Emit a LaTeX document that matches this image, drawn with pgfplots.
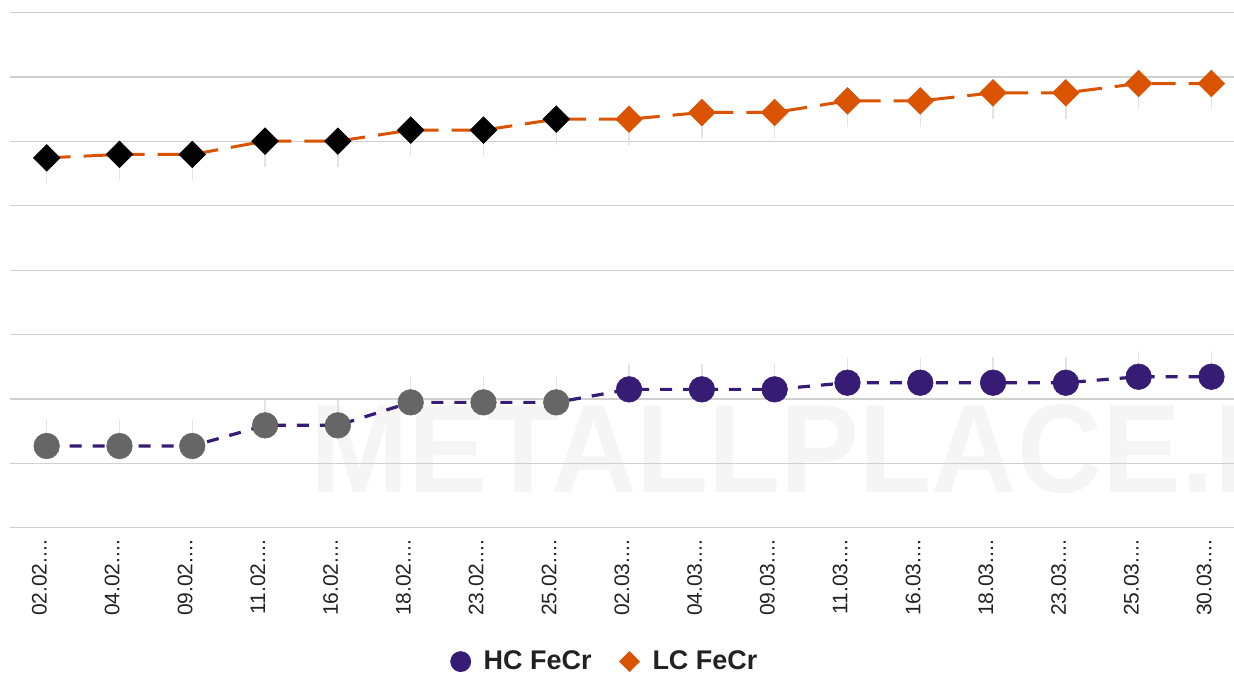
\documentclass[border=0pt]{standalone}
\usepackage{fontspec}
\setmainfont{Liberation Sans}
\usepackage{pgfplots}
\pgfplotsset{compat=1.18}
\definecolor{hc}{HTML}{361C74}
\definecolor{lc}{HTML}{D95300}
\definecolor{gridc}{HTML}{D0D0D0}
\definecolor{errc}{HTML}{E4E4E4}
\definecolor{hcold}{HTML}{666666}
\definecolor{wm}{HTML}{F5F5F5}
\definecolor{txt}{HTML}{222222}
\newcommand{\dd}{.{}.{}.{}.}
\begin{document}
\begin{tikzpicture}
% faint watermark
\node[text=wm, font=\bfseries\fontsize{62.85pt}{62.85pt}\selectfont, anchor=base west, inner sep=0pt, xscale=0.94] at (155pt,90pt) {METALLPLACE.RU};
\begin{axis}[
  at={(5pt,72.65pt)}, anchor=south west,
  scale only axis, width=612pt, height=257.5pt,
  xmin=-0.504, xmax=16.31, ymin=0, ymax=8,
  axis line style={draw=none},
  tick style={draw=none},
  ytick={0,1,2,3,4,5,6,7,8}, yticklabels={},
  ymajorgrids, grid style={gridc, line width=0.65pt},
  xtick={0,1,2,3,4,5,6,7,8,9,10,11,12,13,14,15,16},
  xticklabels={{02.02\dd},{04.02\dd},{09.02\dd},{11.02\dd},{16.02\dd},{18.02\dd},{23.02\dd},{25.02\dd},{02.03\dd},{04.03\dd},{09.03\dd},{11.03\dd},{16.03\dd},{18.03\dd},{23.03\dd},{25.03\dd},{30.03\dd}},
  xticklabel style={rotate=90, anchor=base east, inner sep=0pt, font=\fontsize{10.5pt}{12pt}\selectfont, text=txt},
  xticklabel shift=6pt,
  clip=false,
  legend columns=2,
  legend cell align=left,
  legend style={at={(axis description cs:0.487,-0.26)}, anchor=center, draw=none, fill=none, inner sep=0pt,
    font=\bfseries\fontsize{13.5pt}{16pt}\selectfont, text=txt,
    /tikz/every even column/.append style={column sep=12pt}},
]
% faint range lines
\addplot[forget plot, draw=none, mark=none, error bars/.cd, y dir=minus, y fixed=0.40, error mark=none,
  error bar style={draw=errc, line width=0.75pt, solid}]
  coordinates {(0,5.745)(1,5.798)(2,5.798)(3,6.005)(4,6.005)(5,6.176)(6,6.176)(7,6.346)(8,6.346)(9,6.450)(10,6.450)(11,6.630)(12,6.630)(13,6.755)(14,6.755)(15,6.90)(16,6.90)};
\addplot[forget plot, draw=none, mark=none, error bars/.cd, y dir=plus, y fixed=0.40, error mark=none,
  error bar style={draw=errc, line width=0.75pt, solid}]
  coordinates {(0,1.269)(1,1.269)(2,1.269)(3,1.590)(4,1.590)(5,1.947)(6,1.947)(7,1.947)(8,2.149)(9,2.149)(10,2.149)(11,2.252)(12,2.252)(13,2.252)(14,2.252)(15,2.345)(16,2.345)};
% LC line
\addplot[forget plot, lc, line width=1.5pt, dash pattern=on 12pt off 6.5pt, mark=none]
  coordinates {(0,5.745)(1,5.798)(2,5.798)(3,6.005)(4,6.005)(5,6.176)(6,6.176)(7,6.346)(8,6.346)(9,6.450)(10,6.450)(11,6.630)(12,6.630)(13,6.755)(14,6.755)(15,6.90)(16,6.90)};
% HC line
\addplot[forget plot, hc, line width=1.6pt, dash pattern=on 6pt off 5.5pt, mark=none]
  coordinates {(0,1.269)(1,1.269)(2,1.269)(3,1.590)(4,1.590)(5,1.947)(6,1.947)(7,1.947)(8,2.149)(9,2.149)(10,2.149)(11,2.252)(12,2.252)(13,2.252)(14,2.252)(15,2.345)(16,2.345)};
% LC markers
\addplot[forget plot, only marks, mark=square*, mark size=4.7pt, mark options={rotate=45, fill=black, draw=black, line width=0.3pt}]
  coordinates {(0,5.745)(1,5.798)(2,5.798)(3,6.005)(4,6.005)(5,6.176)(6,6.176)(7,6.346)};
\addplot[forget plot, only marks, mark=square*, mark size=4.7pt, mark options={rotate=45, fill=lc, draw=lc, line width=0.3pt}]
  coordinates {(8,6.346)(9,6.450)(10,6.450)(11,6.630)(12,6.630)(13,6.755)(14,6.755)(15,6.90)(16,6.90)};
% HC markers
\addplot[forget plot, only marks, mark=*, mark size=6.4pt, mark options={fill=hcold, draw=hcold, line width=0.3pt}]
  coordinates {(0,1.269)(1,1.269)(2,1.269)(3,1.590)(4,1.590)(5,1.947)(6,1.947)(7,1.947)};
\addplot[forget plot, only marks, mark=*, mark size=6.4pt, mark options={fill=hc, draw=hc, line width=0.3pt}]
  coordinates {(8,2.149)(9,2.149)(10,2.149)(11,2.252)(12,2.252)(13,2.252)(14,2.252)(15,2.345)(16,2.345)};
% legend
\addlegendimage{only marks, mark=*, mark size=5pt, mark options={fill=hc, draw=hc}}
\addlegendentry{\hspace{4.5pt}HC FeCr}
\addlegendimage{only marks, mark=square*, mark size=3.5pt, mark options={rotate=45, fill=lc, draw=lc}}
\addlegendentry{\hspace{4.5pt}LC FeCr}
\end{axis}
\pgfresetboundingbox
\useasboundingbox (0,0) rectangle (617pt,336.5pt);
\end{tikzpicture}
\end{document}
